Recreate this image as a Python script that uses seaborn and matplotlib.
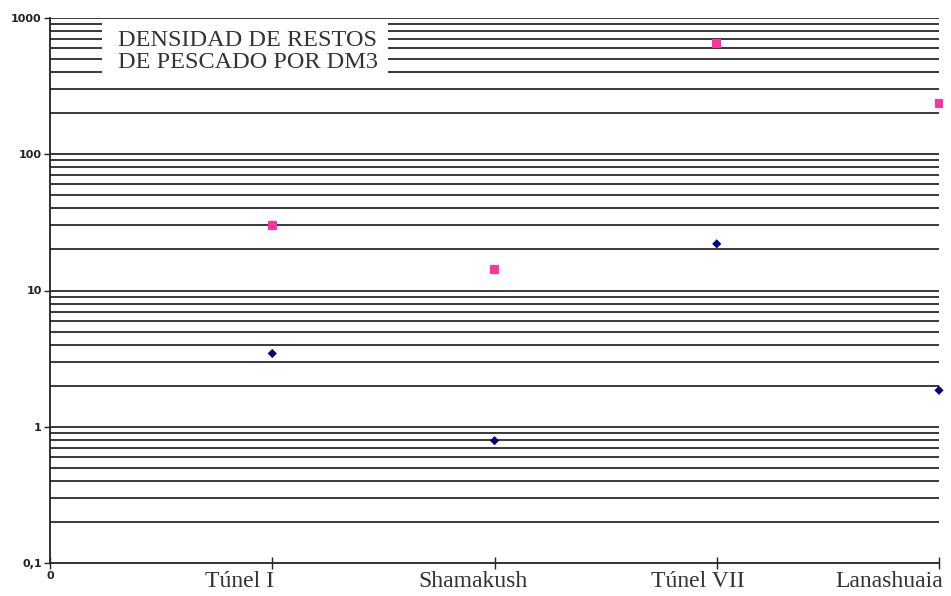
import numpy as np
import pandas as pd
import matplotlib
matplotlib.use("Agg")
import matplotlib.pyplot as plt
from matplotlib.patches import Rectangle
from matplotlib.ticker import FixedLocator, NullFormatter
from matplotlib.transforms import ScaledTranslation
import seaborn as sns

# Sites and fish-remain densities (per dm3)
sites = ["Túnel I", "Shamakush", "Túnel VII", "Lanashuaia"]
serie_rombo = [3.45, 0.79, 22.0, 1.85]      # navy diamonds
serie_cuadrado = [30.0, 14.2, 650.0, 235.0]  # pink squares
y_tick_values = [0.1, 1, 10, 100, 1000]
y_tick_labels = ["0,1", "1", "10", "100", "1000"]
title_lines = ["DENSIDAD DE RESTOS", "DE PESCADO POR DM3"]

sns.set_theme(style="white")
plt.rcParams["font.family"] = ["DejaVu Sans"]

pos = np.arange(1, len(sites) + 1)
df = pd.DataFrame({
    "pos": np.concatenate([pos, pos]),
    "valor": serie_rombo + serie_cuadrado,
    "serie": ["rombo"] * len(sites) + ["cuadrado"] * len(sites),
})

fig = plt.figure(figsize=(9.51, 5.96), dpi=100)
ax = fig.add_axes([50 / 951, 33 / 596, 889 / 951, 545 / 596])

sns.scatterplot(
    data=df, x="pos", y="valor", hue="serie", style="serie", size="serie",
    palette={"rombo": "#000080", "cuadrado": "#FF3399"},
    markers={"rombo": "D", "cuadrado": "s"},
    sizes={"rombo": 22, "cuadrado": 38},
    linewidth=0, legend=False, ax=ax, zorder=5, clip_on=False,
)

ax.set_yscale("log")
ax.set_ylim(0.1, 1000)
ax.set_xlim(0, 4)

# horizontal grid at every major and minor decade step
grid_vals = []
for e in range(-1, 3):
    for m in range(1, 10):
        v = m * 10.0 ** e
        if v > 0.1:
            grid_vals.append(v)
grid_vals.append(1000)
for v in grid_vals:
    ax.axhline(v, color="#2a2a2a", lw=1.3, zorder=1)

ax.yaxis.set_major_locator(FixedLocator(y_tick_values))
ax.set_yticklabels(y_tick_labels)
ax.yaxis.set_minor_locator(FixedLocator([]))
ax.yaxis.set_minor_formatter(NullFormatter())
ax.tick_params(axis="y", which="major", direction="out", length=4, width=1,
               color="#222222", labelsize=8, pad=2, left=True)
for t in ax.get_yticklabels():
    t.set_fontweight("bold")
    t.set_color("#222222")

ax.set_xticks([0] + list(pos))
ax.set_xticklabels(["0"] + sites)
ax.tick_params(axis="x", direction="inout", length=8, width=1, color="#222222",
               pad=2, bottom=True)
xl = ax.get_xticklabels()
xl[0].set_fontsize(8)
xl[0].set_fontweight("bold")
# category labels sit a little left of their ticks
label_shift_px = [-33, -21, -19, -50]
for t, dx in zip(xl[1:], label_shift_px):
    t.set_fontfamily("Liberation Serif")
    t.set_fontsize(17)
    t.set_color("#333333")
    t.set_transform(t.get_transform() + ScaledTranslation(dx / 100, 0, fig.dpi_scale_trans))

ax.set_xlabel("")
ax.set_ylabel("")
for side in ["top", "right"]:
    ax.spines[side].set_visible(False)
for side in ["left", "bottom"]:
    ax.spines[side].set_color("#222222")
    ax.spines[side].set_linewidth(1.3)
    ax.spines[side].set_zorder(3)

# white panel carrying the title
ax.add_patch(Rectangle((0.058, 0.892), 0.322, 0.104, transform=ax.transAxes,
                       facecolor="white", edgecolor="none", zorder=2))
ax.text(0.2225, 0.9385, "\n".join(title_lines), transform=ax.transAxes,
        ha="center", va="center", fontfamily="Liberation Serif", fontsize=17.5,
        color="#333333", linespacing=1.1, zorder=3)

fig.savefig("out.png", dpi=100, facecolor="white")
